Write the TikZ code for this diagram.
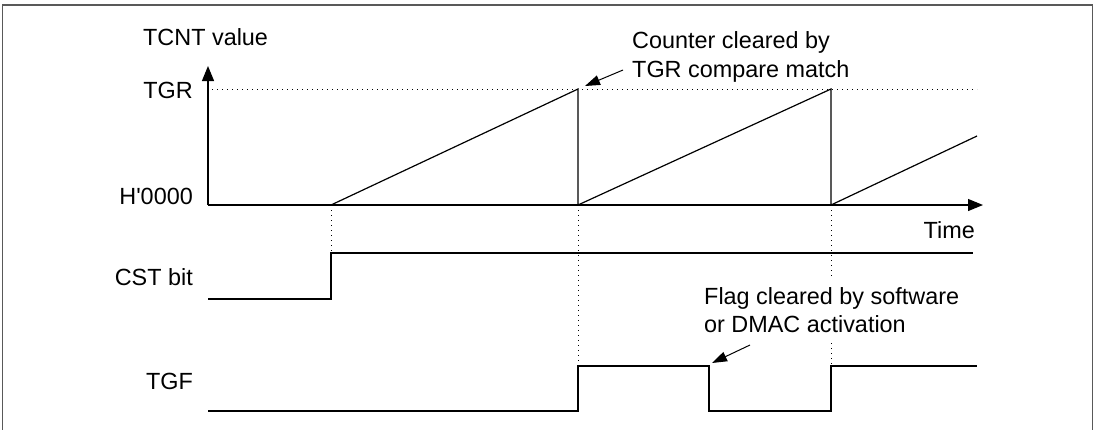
\documentclass[tikz,border=0pt]{standalone}
\usepackage{fontspec}
\setmainfont{Liberation Sans}
\usetikzlibrary{arrows.meta}
\begin{document}
\begin{tikzpicture}[x=1pt,y=-1pt,
  wave/.style={line width=1.2pt, line join=miter},
  guide/.style={line width=0.9pt, dash pattern=on 0.9pt off 4.1pt},
  lbl/.style={font=\fontsize{23.4}{28}\selectfont, inner sep=0pt},
  axisarrow/.style={-{Triangle[length=15pt,width=12pt]}},
  annarrow/.style={line width=1pt, -{Triangle[length=15pt,width=10pt]}}]
\useasboundingbox (0,0) rectangle (1098,429);
\clip (0,0) rectangle (1098,429);
% frame
\draw[line width=1.3pt, black!65] (2.5,440) -- (2.5,5) -- (1092.5,5) -- (1092.5,440);
% labels
\node[lbl, anchor=base west] (tcnt) at (143,45) {TCNT value};
\node[lbl, anchor=base east] (tgr) at (193,98) {TGR};
\node[lbl, anchor=base east] (h0) at (193,204) {H\textquotesingle 0000};
\node[lbl, anchor=base east] (time) at (975,238) {Time};
\node[lbl, anchor=base east] (cst) at (193,285) {CST bit};
\node[lbl, anchor=base east] (tgf) at (193,389) {TGF};
\node[lbl, anchor=base west] (cnt1) at (632,48) {Counter cleared by};
\node[lbl, anchor=base west] (cnt2) at (632,77) {TGR compare match};
\node[lbl, anchor=base west] (flag1) at (704,304) {Flag cleared by software};
\node[lbl, anchor=base west] (flag2) at (704,332) {or DMAC activation};
% axes
\coordinate (origin) at (208,205);
\coordinate (ytip) at (208,66);
\coordinate (xtip) at (983,205);
\draw[wave, axisarrow] (origin) -- (ytip);
\draw[wave, axisarrow] (origin) -- (xtip);
% guides
\draw[guide] (212,89) -- (977,89);
\draw[guide] (331,205) -- (331,253);
\draw[guide] (578,205) -- (578,366);
\draw[guide] (831,205) -- (831,277);
\draw[guide] (831,343) -- (831,366);
% TCNT
\draw[wave] (331,205) -- (578,89) -- (578,205) -- (831,89) -- (831,205) -- (977,136);
% CST
\draw[wave] (208,299) -- (331,299) -- (331,253) -- (973,253);
% TGF
\draw[wave] (208,411) -- (578,411) -- (578,366) -- (709,366) -- (709,411) -- (831,411) -- (831,366) -- (977,366);
% annotation arrows
\coordinate (cnttail) at (623,70);
\coordinate (cnttip) at (585,86);
\draw[annarrow] (cnttail) -- (cnttip);
\coordinate (flagtail) at (750,345);
\coordinate (flagtip) at (712,363);
\draw[annarrow] (flagtail) -- (flagtip);
\end{tikzpicture}
\end{document}
